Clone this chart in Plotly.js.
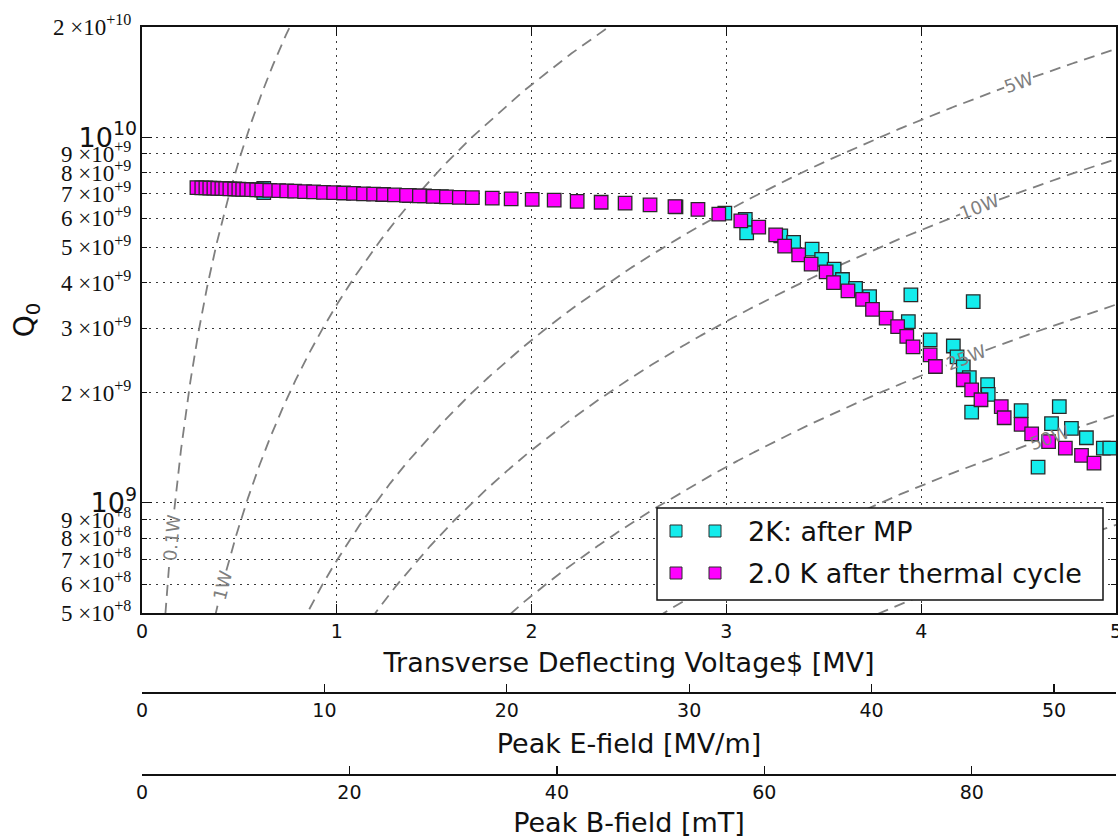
<!DOCTYPE html>
<html><head><meta charset="utf-8">
<script src="https://cdn.plot.ly/plotly-3.0.1.min.js"></script>
<style>html,body{margin:0;padding:0;background:#fff}#chart{width:1118px;height:838px}</style>
</head><body><div id="chart"></div>
<script>
// ---------------- data ----------------
// Series 1: "2K: after MP"  (transverse voltage [MV], Q0)
const afterMP_V = [0.625,0.625,1.235,1.373,1.450,1.537,2.741,2.992,3.097,3.104,
  3.279,3.345,3.440,3.489,3.553,3.596,3.663,3.735,3.934,3.947,
  4.046,4.165,4.184,4.216,4.247,4.267,4.259,4.341,4.344,4.513,
  4.669,4.709,4.771,4.848,4.600,4.935,4.968];
const afterMP_Q0 = [7.244e9,7.047e9,6.968e9,6.924e9,6.905e9,6.876e9,6.445e9,6.194e9,5.957e9,5.473e9,
  5.37e9,5.155e9,4.942e9,4.629e9,4.355e9,4.081e9,3.859e9,3.663e9,3.131e9,3.705e9,
  2.791e9,2.685e9,2.508e9,2.355e9,2.2e9,3.552e9,1.771e9,2.106e9,1.979e9,1.788e9,
  1.646e9,1.834e9,1.598e9,1.507e9,1.252e9,1.412e9,1.412e9];

// Series 2: "2.0 K after thermal cycle"
const thermal_V = [0.282,0.307,0.328,0.348,0.369,0.389,0.410,0.430,0.451,0.476,
  0.497,0.517,0.538,0.563,0.589,0.615,0.656,0.702,0.743,0.784,
  0.835,0.881,0.932,0.984,1.035,1.086,1.137,1.189,1.240,1.296,
  1.358,1.424,1.496,1.563,1.629,1.696,1.798,1.895,2.003,2.116,
  2.234,2.357,2.480,2.608,2.736,2.854,2.961,3.074,3.166,3.253,
  3.299,3.371,3.435,3.512,3.550,3.624,3.699,3.750,3.820,3.879,
  3.926,3.958,4.046,4.073,4.216,4.259,4.307,4.411,4.426,4.513,
  4.567,4.654,4.740,4.823,4.887];
const thermal_Q0 = [7.277e9,7.268e9,7.263e9,7.254e9,7.250e9,7.241e9,7.236e9,7.227e9,7.222e9,7.213e9,
  7.204e9,7.200e9,7.195e9,7.186e9,7.177e9,7.168e9,7.154e9,7.141e9,7.128e9,7.114e9,
  7.096e9,7.082e9,7.065e9,7.047e9,7.034e9,7.016e9,6.998e9,6.985e9,6.968e9,6.950e9,
  6.933e9,6.911e9,6.889e9,6.868e9,6.846e9,6.833e9,6.808e9,6.778e9,6.757e9,6.727e9,
  6.672e9,6.637e9,6.597e9,6.527e9,6.452e9,6.344e9,6.158e9,5.902e9,5.672e9,5.404e9,
  5.033e9,4.764e9,4.496e9,4.281e9,4.003e9,3.799e9,3.601e9,3.381e9,3.199e9,3.034e9,
  2.853e9,2.671e9,2.540e9,2.360e9,2.171e9,2.038e9,1.914e9,1.834e9,1.709e9,1.640e9,
  1.545e9,1.470e9,1.412e9,1.348e9,1.285e9];

const seriesNames = ['2K: after MP', '2.0 K after thermal cycle'];

// iso-power lines: Q0 = V^2 / (R/Q * P)
const powerLevels = [0.1, 1, 5, 10, 25, 50, 100];          // W
const powerLabels = ['0.1W','1W','5W','10W','25W','50W',null];
const powerLabelV = [0.152, 0.413, 4.50, 4.30, 4.23, 4.66, null]; // MV, where the label sits
const RoverQ = 287;        // Ohm
const EpkPerMV = 10.68;    // MV/m per MV
const BpkPerMV = 18.78;    // mT per MV

// tick labels
const xTicks = [0,1,2,3,4,5];
const eTicks = [0,10,20,30,40,50];
const bTicks = [0,20,40,60,80];
const yMinorVals = [5e8,6e8,7e8,8e8,9e8,2e9,3e9,4e9,5e9,6e9,7e9,8e9,9e9,2e10];
const yMinorText = ['5 ×10<sup>+8</sup>','6 ×10<sup>+8</sup>','7 ×10<sup>+8</sup>','8 ×10<sup>+8</sup>','9 ×10<sup>+8</sup>',
  '2 ×10<sup>+9</sup>','3 ×10<sup>+9</sup>','4 ×10<sup>+9</sup>','5 ×10<sup>+9</sup>','6 ×10<sup>+9</sup>',
  '7 ×10<sup>+9</sup>','8 ×10<sup>+9</sup>','9 ×10<sup>+9</sup>','2 ×10<sup>+10</sup>'];
const yMajorVals = [1e9, 1e10];
const yMajorText = ['10<sup>9</sup>','10<sup>10</sup>'];

// ---------------- geometry ----------------
const W = 1118, H = 838;
const M = {l:142, r:2, t:27, b:63};
const plotW = W - M.l - M.r, plotH = H - M.t - M.b;
const yDom0 = 162 / plotH;
const xRange = [0, 5];
const yRange = [Math.log10(5e8), Math.log10(2e10)];
const pxPerV = plotW / (xRange[1]-xRange[0]);
const pxPerDec = plotH*(1-yDom0) / (yRange[1]-yRange[0]);
const q0 = (v, P) => v*v*1e12/(RoverQ*P);
const LBLFS = 18;
const GRAY = '#7f7f7f';
const gridStyle = {showgrid:true, gridcolor:'#3a3a3a', gridwidth:1, griddash:'1.5px,5.5px'};
const px2paperX = px => (px - M.l)/plotW;
const px2paperY = py => (H - M.b - py)/plotH;

// ---------------- traces ----------------
const traces = [];
const annotations = [];
powerLevels.forEach((P, k) => {
  const lv = powerLabelV[k], txt = powerLabels[k];
  let lx=0, ly=0, half=0;
  if (lv !== null) {
    lx = lv*pxPerV; ly = -Math.log10(q0(lv,P))*pxPerDec;
    half = txt.length*0.62*LBLFS/2 + 4;
  }
  const xs = [], ys = [];
  for (let i = 1; i <= 5300; i++) {
    const v = i*0.001, q = q0(v, P);
    if (q < 2e8 || q > 5e10) { xs.push(null); ys.push(null); continue; }
    if (lv !== null) {
      const d = Math.hypot(v*pxPerV - lx, -Math.log10(q)*pxPerDec - ly);
      if (d < half) { xs.push(null); ys.push(null); continue; }
    }
    xs.push(v); ys.push(q);
  }
  traces.push({x:xs, y:ys, mode:'lines', type:'scatter', hoverinfo:'skip', showlegend:false,
    line:{color:GRAY, width:1.8, dash:'11px,7px'}, connectgaps:false});
  if (lv !== null) {
    const slope = (2/(lv*Math.LN10))*pxPerDec/pxPerV;
    annotations.push({x:lv, y:Math.log10(q0(lv,P)), xref:'x', yref:'y', text:txt, showarrow:false,
      textangle:-Math.atan(slope)*180/Math.PI, font:{family:'DejaVu Sans', size:LBLFS, color:GRAY},
      xanchor:'center', yanchor:'middle'});
  }
});

const CYAN = '#14ecec', MAG = '#ff00ff', EDGE = '#2a2a2a';
traces.push({x:afterMP_V, y:afterMP_Q0, name:seriesNames[0], type:'scatter', mode:'markers', showlegend:false,
  marker:{symbol:'square', size:13.5, color:CYAN, line:{color:EDGE, width:1.3}}});
traces.push({x:thermal_V, y:thermal_Q0, name:seriesNames[1], type:'scatter', mode:'markers', showlegend:false,
  marker:{symbol:'square', size:13.5, color:MAG, line:{color:EDGE, width:1.3}}});
// carriers for the extra axes
traces.push({x:[null], y:[null], xaxis:'x2', yaxis:'y2', type:'scatter', mode:'markers', showlegend:false, hoverinfo:'skip'});
traces.push({x:[null], y:[null], xaxis:'x3', yaxis:'y2', type:'scatter', mode:'markers', showlegend:false, hoverinfo:'skip'});

// ---------------- legend (two sample markers per entry) ----------------
const shapes = [];
const lgBox = {x0:657, x1:1103, y0:508, y1:600};
shapes.push({type:'rect', xref:'paper', yref:'paper', layer:'above',
  x0:px2paperX(lgBox.x0), x1:px2paperX(lgBox.x1), y0:px2paperY(lgBox.y1), y1:px2paperY(lgBox.y0),
  fillcolor:'#fff', line:{color:'#111', width:1.5}});
const lgRows = [531, 573], lgCols = [676, 715], lgColors = [CYAN, MAG];
lgRows.forEach((ry, r) => {
  lgCols.forEach(cx => {
    shapes.push({type:'rect', xref:'paper', yref:'paper', layer:'above',
      x0:px2paperX(cx-6), x1:px2paperX(cx+6), y0:px2paperY(ry+6), y1:px2paperY(ry-6),
      fillcolor:lgColors[r], line:{color:EDGE, width:1}});
  });
  annotations.push({xref:'paper', yref:'paper', x:px2paperX(746), y:px2paperY(ry), text:seriesNames[r],
    showarrow:false, xanchor:'left', yanchor:'middle', font:{family:'DejaVu Sans', size:27, color:'#111'}});
});

// ---------------- layout ----------------
const axisLine = {showline:true, linecolor:'#111', linewidth:2, zeroline:false};
const layout = {
  width:W, height:H, margin:M, paper_bgcolor:'#fff', plot_bgcolor:'#fff', showlegend:false,
  xaxis: Object.assign({range:xRange, tickmode:'array', tickvals:xTicks, ticks:'inside', ticklen:9, tickwidth:1.2,
    tickcolor:'#111', mirror:'ticks', anchor:'y', ticklabeloverflow:'allow',
    tickfont:{family:'DejaVu Sans', size:19, color:'#111'},
    title:{text:'Transverse Deflecting Voltage$ [MV]', font:{family:'DejaVu Sans', size:27, color:'#111'}, standoff:12}},
    axisLine, gridStyle),
  xaxis2: Object.assign({overlaying:'x', anchor:'free', position:(H-M.b-693)/plotH, side:'bottom',
    range:[xRange[0]*EpkPerMV, xRange[1]*EpkPerMV], tickmode:'array', tickvals:eTicks, ticks:'inside', ticklen:8,
    tickwidth:1.2, tickcolor:'#111', showgrid:false,
    tickfont:{family:'DejaVu Sans', size:19, color:'#111'},
    title:{text:'Peak E-field [MV/m]', font:{family:'DejaVu Sans', size:27, color:'#111'}, standoff:13}}, axisLine),
  xaxis3: Object.assign({overlaying:'x', anchor:'free', position:0, side:'bottom',
    range:[xRange[0]*BpkPerMV, xRange[1]*BpkPerMV], tickmode:'array', tickvals:bTicks, ticks:'inside', ticklen:8,
    tickwidth:1.2, tickcolor:'#111', showgrid:false,
    tickfont:{family:'DejaVu Sans', size:19, color:'#111'},
    title:{text:'Peak B-field [mT]', font:{family:'DejaVu Sans', size:27, color:'#111'}, standoff:14}}, axisLine),
  yaxis: Object.assign({type:'log', range:yRange, domain:[yDom0, 1], tickmode:'array', tickvals:yMinorVals,
    ticktext:yMinorText, ticks:'inside', ticklen:5, tickwidth:1, tickcolor:'#111', mirror:'ticks', anchor:'x',
    tickfont:{family:'Liberation Serif', size:23, color:'#111'}, ticklabelstandoff:4,
    title:{text:'Q<sub>0</sub>', font:{family:'DejaVu Sans', size:28, color:'#111'}, standoff:10}},
    axisLine, gridStyle),
  yaxis2: Object.assign({type:'log', range:yRange, overlaying:'y', anchor:'x', side:'left', tickmode:'array',
    tickvals:yMajorVals, ticktext:yMajorText, ticks:'inside', ticklen:10, tickwidth:1.2, tickcolor:'#111',
    mirror:'ticks', showline:false, zeroline:false, ticklabelstandoff:4,
    tickfont:{family:'DejaVu Sans', size:27, color:'#111'}}, gridStyle),
  shapes: shapes,
  annotations: annotations
};

Plotly.newPlot('chart', traces, layout, {staticPlot:true, displayModeBar:false});
</script></body></html>
